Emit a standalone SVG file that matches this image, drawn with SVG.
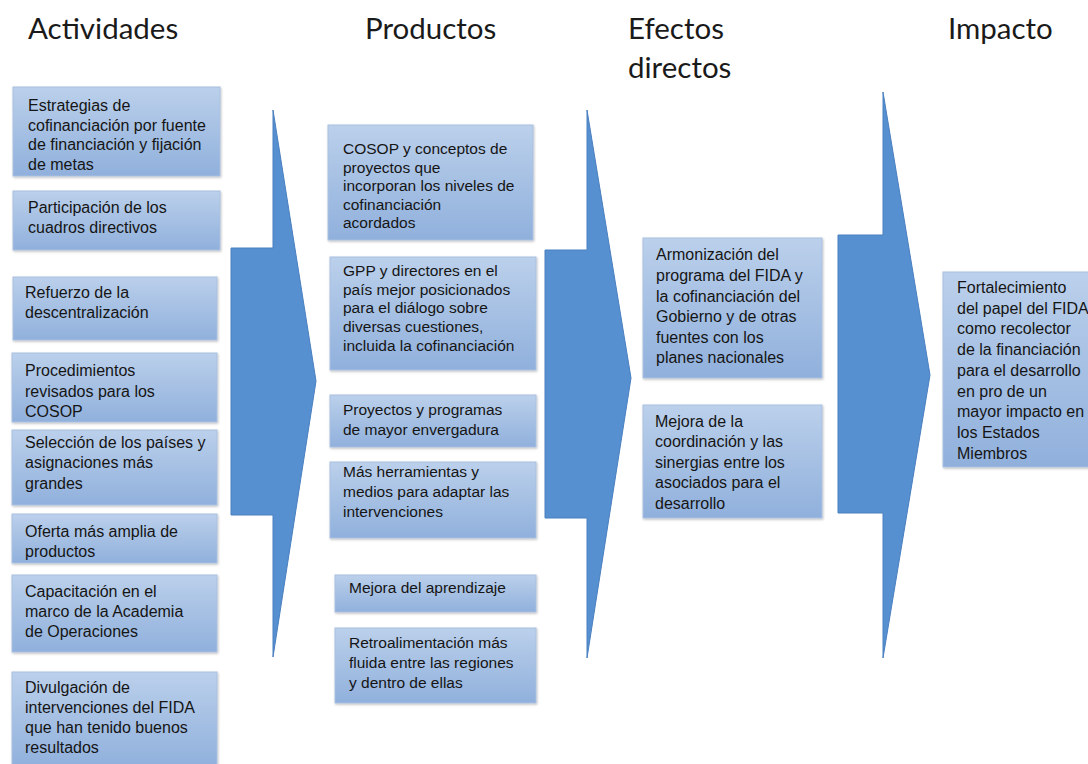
<svg xmlns="http://www.w3.org/2000/svg" width="1088" height="764" viewBox="0 0 1088 764">
<defs>
<linearGradient id="boxGrad" x1="0" y1="0" x2="0" y2="1">
<stop offset="0" stop-color="#bbd0eb"/>
<stop offset="1" stop-color="#90b0dc"/>
</linearGradient>
<filter id="sh" x="-5%" y="-5%" width="110%" height="115%">
<feDropShadow dx="0.8" dy="1.2" stdDeviation="0.8" flood-color="#000" flood-opacity="0.25"/>
</filter>
<style>
.box{fill:url(#boxGrad);stroke:#a9c0e0;stroke-width:1;filter:url(#sh)}
.arrow{fill:#5690d0;stroke:#4a7fbf;stroke-width:1}
.t{font-family:"Liberation Sans",Arial,sans-serif;font-size:16px;fill:#151515}
.tp{font-family:"Liberation Sans",Arial,sans-serif;font-size:15.5px;fill:#151515}
.h{font-family:Lato,"Open Sans",sans-serif;font-size:29.5px;fill:#1a1a1a}
</style>
</defs>
<rect width="1088" height="764" fill="#ffffff"/>

<g id="headers">
<text class="h" x="28" y="39">Actividades</text>
<text class="h" x="365" y="39">Productos</text>
<text class="h" x="628" y="39">Efectos</text>
<text class="h" x="628" y="78">directos</text>
<text class="h" x="948" y="39">Impacto</text>
</g>

<g id="connectors">
<polygon class="arrow" points="231,248 273,248 273,110 316,381 273,657 273,515 231,515"/>
<polygon class="arrow" points="545,250 587,250 587,110 631,378 587,658 587,518 545,518"/>
<polygon class="arrow" points="838,235 883,235 883,92 930,375 883,658 883,513 838,513"/>
</g>

<g id="a1"><rect class="box" x="13" y="87" width="207" height="89"/>
<text class="t" x="28" y="111">Estrategias de</text>
<text class="t" x="28" y="131">cofinanciación por fuente</text>
<text class="t" x="28" y="150">de financiación y fijación</text>
<text class="t" x="28" y="170">de metas</text></g>

<g id="a2"><rect class="box" x="13" y="191" width="207" height="59"/>
<text class="t" x="28" y="213">Participación de los</text>
<text class="t" x="28" y="233">cuadros directivos</text></g>

<g id="a3"><rect class="box" x="13" y="277" width="204" height="63"/>
<text class="t" x="25" y="298">Refuerzo de la</text>
<text class="t" x="25" y="318">descentralización</text></g>

<g id="a4"><rect class="box" x="12" y="353" width="205" height="69"/>
<text class="t" x="25" y="376">Procedimientos</text>
<text class="t" x="25" y="397">revisados para los</text>
<text class="t" x="25" y="417">COSOP</text></g>

<g id="a5"><rect class="box" x="12" y="430" width="205" height="75"/>
<text class="t" x="25" y="448">Selección de los países y</text>
<text class="t" x="25" y="468">asignaciones más</text>
<text class="t" x="25" y="489">grandes</text></g>

<g id="a6"><rect class="box" x="12" y="514" width="205" height="49"/>
<text class="t" x="25" y="537">Oferta más amplia de</text>
<text class="t" x="25" y="557">productos</text></g>

<g id="a7"><rect class="box" x="12" y="575" width="205" height="77"/>
<text class="t" x="25" y="597">Capacitación en el</text>
<text class="t" x="25" y="617">marco de la Academia</text>
<text class="t" x="25" y="637">de Operaciones</text></g>

<g id="a8"><rect class="box" x="12" y="672" width="205" height="95"/>
<text class="t" x="25" y="693">Divulgación de</text>
<text class="t" x="25" y="713">intervenciones del FIDA</text>
<text class="t" x="25" y="733">que han tenido buenos</text>
<text class="t" x="25" y="753">resultados</text></g>

<g id="p1"><rect class="box" x="328" y="125" width="205" height="115"/>
<text class="tp" x="343" y="154">COSOP y conceptos de</text>
<text class="tp" x="343" y="172.5">proyectos que</text>
<text class="tp" x="343" y="191">incorporan los niveles de</text>
<text class="tp" x="343" y="209.5">cofinanciación</text>
<text class="tp" x="343" y="228">acordados</text></g>

<g id="p2"><rect class="box" x="330" y="257" width="206" height="113"/>
<text class="tp" x="343" y="276">GPP y directores en el</text>
<text class="tp" x="343" y="295">país mejor posicionados</text>
<text class="tp" x="343" y="313">para el diálogo sobre</text>
<text class="tp" x="343" y="332">diversas cuestiones,</text>
<text class="tp" x="343" y="351">incluida la cofinanciación</text></g>

<g id="p3"><rect class="box" x="330" y="395" width="206" height="52"/>
<text class="tp" x="343" y="415">Proyectos y programas</text>
<text class="tp" x="343" y="435">de mayor envergadura</text></g>

<g id="p4"><rect class="box" x="330" y="462" width="206" height="76"/>
<text class="tp" x="343" y="477">Más herramientas y</text>
<text class="tp" x="343" y="497">medios para adaptar las</text>
<text class="tp" x="343" y="517">intervenciones</text></g>

<g id="p5"><rect class="box" x="335" y="575" width="201" height="37"/>
<text class="tp" x="349" y="593">Mejora del aprendizaje</text></g>

<g id="p6"><rect class="box" x="335" y="628" width="201" height="75"/>
<text class="tp" x="349" y="648">Retroalimentación más</text>
<text class="tp" x="349" y="668">fluida entre las regiones</text>
<text class="tp" x="349" y="688">y dentro de ellas</text></g>

<g id="e1"><rect class="box" x="643" y="238" width="179" height="140"/>
<text class="t" x="656" y="260">Armonización del</text>
<text class="t" x="656" y="281">programa del FIDA y</text>
<text class="t" x="656" y="302">la cofinanciación del</text>
<text class="t" x="656" y="322">Gobierno y de otras</text>
<text class="t" x="656" y="343">fuentes con los</text>
<text class="t" x="656" y="363">planes nacionales</text></g>

<g id="e2"><rect class="box" x="643" y="405" width="179" height="113"/>
<text class="t" x="655" y="427">Mejora de la</text>
<text class="t" x="655" y="447">coordinación y las</text>
<text class="t" x="655" y="468">sinergias entre los</text>
<text class="t" x="655" y="488">asociados para el</text>
<text class="t" x="655" y="509">desarrollo</text></g>

<g id="i1"><rect class="box" x="943" y="272" width="160" height="195"/>
<text class="t" x="957" y="293">Fortalecimiento</text>
<text class="t" x="957" y="313.7">del papel del FIDA</text>
<text class="t" x="957" y="334.4">como recolector</text>
<text class="t" x="957" y="355.1">de la financiación</text>
<text class="t" x="957" y="375.8">para el desarrollo</text>
<text class="t" x="957" y="396.5">en pro de un</text>
<text class="t" x="957" y="417.2">mayor impacto en</text>
<text class="t" x="957" y="437.9">los Estados</text>
<text class="t" x="957" y="458.6">Miembros</text></g>
</svg>
